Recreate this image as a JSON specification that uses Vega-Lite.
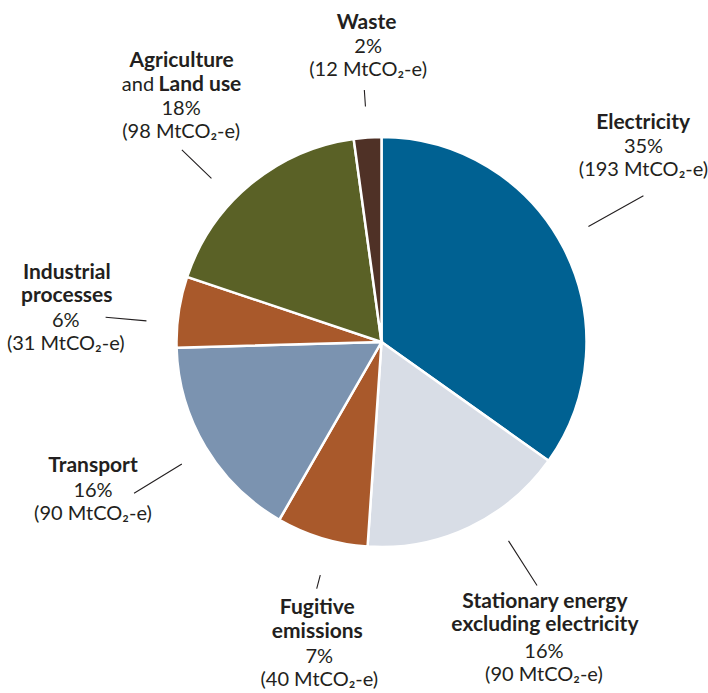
{
  "$schema": "https://vega.github.io/schema/vega-lite/v6.json",
  "width": 653,
  "height": 684,
  "autosize": {"type": "none"},
  "padding": {"left": 55, "top": 0, "right": 0, "bottom": 9},
  "background": "white",
  "config": {
    "view": {"stroke": null},
    "text": {"font": "Lato", "fontSize": 20, "color": "#231f20", "lineHeight": 23.3, "lineBreak": "\n", "baseline": "middle"}
  },
  "data": {
    "values": [
      {"idx": 1, "sector": "Electricity", "value": 193, "title": "Electricity", "nums": "35%\n(193 MtCO₂-e)"},
      {"idx": 2, "sector": "Stationary", "value": 90, "title": "Stationary energy\nexcluding electricity", "nums": "16%\n(90 MtCO₂-e)"},
      {"idx": 3, "sector": "Fugitive", "value": 40, "title": "Fugitive\nemissions", "nums": "7%\n(40 MtCO₂-e)"},
      {"idx": 4, "sector": "Transport", "value": 90, "title": "Transport", "nums": "16%\n(90 MtCO₂-e)"},
      {"idx": 5, "sector": "Industrial", "value": 31, "title": "Industrial\nprocesses", "nums": "6%\n(31 MtCO₂-e)"},
      {"idx": 6, "sector": "Agriculture", "value": 98, "title": "Agriculture", "sub1": "and", "sub2": "Land use", "nums": "18%\n(98 MtCO₂-e)"},
      {"idx": 7, "sector": "Waste", "value": 12, "title": "Waste", "nums": "2%\n(12 MtCO₂-e)"}
    ]
  },
  "encoding": {
    "theta": {"field": "value", "type": "quantitative", "stack": true},
    "order": {"field": "idx", "type": "quantitative"}
  },
  "resolve": {"scale": {"theta": "independent"}},
  "layer": [
    {
      "mark": {"type": "arc", "outerRadius": 205, "stroke": "white", "strokeWidth": 2.5},
      "encoding": {
        "color": {"field": "sector", "type": "nominal", "legend": null,
          "scale": {"domain": ["Electricity", "Stationary", "Fugitive", "Transport", "Industrial", "Agriculture", "Waste"],
                    "range": ["#006192", "#d8dde6", "#a9592b", "#7b93b0", "#a9592b", "#5a6126", "#4f3126"]}}
      }
    },
    {
      "mark": {"type": "arc", "radius": 300, "radius2": 237, "padAngle": 3, "fillOpacity": 0, "stroke": "#231f20", "strokeWidth": 1.1},
      "encoding": {
        "theta": {"field": "value", "type": "quantitative", "stack": true, "scale": {"range": [-0.033, 6.2502]}},
        "strokeOpacity": {"condition": {"test": "datum.sector === 'Electricity'", "value": 1}, "value": 0}
      }
    },
    {
      "mark": {"type": "arc", "radius": 289, "radius2": 236, "padAngle": 3, "fillOpacity": 0, "stroke": "#231f20", "strokeWidth": 1.1},
      "encoding": {
        "theta": {"field": "value", "type": "quantitative", "stack": true, "scale": {"range": [-0.126, 6.1572]}},
        "strokeOpacity": {"condition": {"test": "datum.sector === 'Stationary'", "value": 1}, "value": 0}
      }
    },
    {
      "mark": {"type": "arc", "radius": 255, "radius2": 241, "padAngle": 3, "fillOpacity": 0, "stroke": "#231f20", "strokeWidth": 1.1},
      "encoding": {
        "theta": {"field": "value", "type": "quantitative", "stack": true, "scale": {"range": [-0.038, 6.2452]}},
        "strokeOpacity": {"condition": {"test": "datum.sector === 'Fugitive'", "value": 1}, "value": 0}
      }
    },
    {
      "mark": {"type": "arc", "radius": 290, "radius2": 234, "padAngle": 3, "fillOpacity": 0, "stroke": "#231f20", "strokeWidth": 1.1},
      "encoding": {
        "theta": {"field": "value", "type": "quantitative", "stack": true, "scale": {"range": [-0.01, 6.2732]}},
        "strokeOpacity": {"condition": {"test": "datum.sector === 'Transport'", "value": 1}, "value": 0}
      }
    },
    {
      "mark": {"type": "arc", "radius": 277, "radius2": 236, "padAngle": 3, "fillOpacity": 0, "stroke": "#231f20", "strokeWidth": 1.1},
      "encoding": {
        "theta": {"field": "value", "type": "quantitative", "stack": true, "scale": {"range": [-0.058, 6.2252]}},
        "strokeOpacity": {"condition": {"test": "datum.sector === 'Industrial'", "value": 1}, "value": 0}
      }
    },
    {
      "mark": {"type": "arc", "radius": 277, "radius2": 236, "padAngle": 3, "fillOpacity": 0, "stroke": "#231f20", "strokeWidth": 1.1},
      "encoding": {
        "theta": {"field": "value", "type": "quantitative", "stack": true, "scale": {"range": [-0.113, 6.1702]}},
        "strokeOpacity": {"condition": {"test": "datum.sector === 'Agriculture'", "value": 1}, "value": 0}
      }
    },
    {
      "mark": {"type": "arc", "radius": 252.5, "radius2": 236, "padAngle": 3, "fillOpacity": 0, "stroke": "#231f20", "strokeWidth": 1.1},
      "encoding": {
        "theta": {"field": "value", "type": "quantitative", "stack": true},
        "strokeOpacity": {"condition": {"test": "datum.sector === 'Waste'", "value": 1}, "value": 0}
      }
    },
    {"mark": {"type": "text", "radius": 300, "dx": -5, "dy": -81.5, "fontWeight": "bold", "fontSize": 21},
     "encoding": {"text": {"condition": {"test": "datum.sector === 'Electricity'", "field": "title"}, "value": ""}}},
    {"mark": {"type": "text", "radius": 300, "dx": -4.6, "dy": -57.5},
     "encoding": {"text": {"condition": {"test": "datum.sector === 'Electricity'", "field": "nums"}, "value": ""}}},
    {"mark": {"type": "text", "radius": 300, "dx": 35, "dy": -11.4, "fontWeight": "bold", "fontSize": 21},
     "encoding": {"text": {"condition": {"test": "datum.sector === 'Stationary'", "field": "title"}, "value": ""}}},
    {"mark": {"type": "text", "radius": 300, "dx": 34, "dy": 38.6},
     "encoding": {"text": {"condition": {"test": "datum.sector === 'Stationary'", "field": "nums"}, "value": ""}}},
    {"mark": {"type": "text", "radius": 300, "dx": 23, "dy": -20.7, "fontWeight": "bold", "fontSize": 21},
     "encoding": {"text": {"condition": {"test": "datum.sector === 'Fugitive'", "field": "title"}, "value": ""}}},
    {"mark": {"type": "text", "radius": 300, "dx": 25, "dy": 27.7},
     "encoding": {"text": {"condition": {"test": "datum.sector === 'Fugitive'", "field": "nums"}, "value": ""}}},
    {"mark": {"type": "text", "radius": 300, "dx": -31, "dy": -30, "fontWeight": "bold", "fontSize": 21},
     "encoding": {"text": {"condition": {"test": "datum.sector === 'Transport'", "field": "title"}, "value": ""}}},
    {"mark": {"type": "text", "radius": 300, "dx": -31, "dy": -4.9},
     "encoding": {"text": {"condition": {"test": "datum.sector === 'Transport'", "field": "nums"}, "value": ""}}},
    {"mark": {"type": "text", "radius": 300, "dx": -18, "dy": -24.9, "fontWeight": "bold", "fontSize": 21},
     "encoding": {"text": {"condition": {"test": "datum.sector === 'Industrial'", "field": "title"}, "value": ""}}},
    {"mark": {"type": "text", "radius": 300, "dx": -19, "dy": 22.8},
     "encoding": {"text": {"condition": {"test": "datum.sector === 'Industrial'", "field": "nums"}, "value": ""}}},
    {"mark": {"type": "text", "radius": 300, "dx": -8.5, "dy": -50, "fontWeight": "bold", "fontSize": 21},
     "encoding": {"text": {"condition": {"test": "datum.sector === 'Agriculture'", "field": "title"}, "value": ""}}},
    {"mark": {"type": "text", "radius": 300, "dx": -36, "dy": -26, "align": "right"},
     "encoding": {"text": {"condition": {"test": "datum.sector === 'Agriculture'", "field": "sub1"}, "value": ""}}},
    {"mark": {"type": "text", "radius": 300, "dx": -31.5, "dy": -26, "align": "left", "fontWeight": "bold", "fontSize": 21},
     "encoding": {"text": {"condition": {"test": "datum.sector === 'Agriculture'", "field": "sub2"}, "value": ""}}},
    {"mark": {"type": "text", "radius": 300, "dx": -9, "dy": -2},
     "encoding": {"text": {"condition": {"test": "datum.sector === 'Agriculture'", "field": "nums"}, "value": ""}}},
    {"mark": {"type": "text", "radius": 300, "dx": 5.5, "dy": -20, "fontWeight": "bold", "fontSize": 21},
     "encoding": {"text": {"condition": {"test": "datum.sector === 'Waste'", "field": "title"}, "value": ""}}},
    {"mark": {"type": "text", "radius": 300, "dx": 7, "dy": 4},
     "encoding": {"text": {"condition": {"test": "datum.sector === 'Waste'", "field": "nums"}, "value": ""}}}
  ]
}
